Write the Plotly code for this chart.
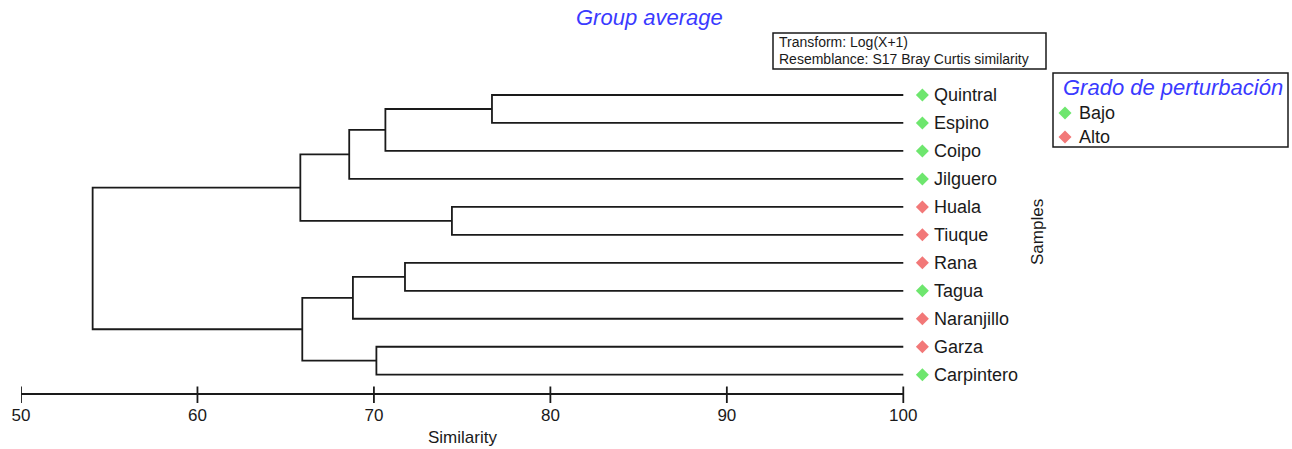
import plotly.graph_objects as go

# ---------------- data ----------------
leaves = ["Quintral", "Espino", "Coipo", "Jilguero", "Huala", "Tiuque",
          "Rana", "Tagua", "Naranjillo", "Garza", "Carpintero"]
groups = ["Bajo", "Bajo", "Bajo", "Bajo", "Alto", "Alto",
          "Alto", "Bajo", "Alto", "Alto", "Bajo"]
# merges: cluster ids 0..10 are leaves, each merge creates id 11, 12, ...
merge_left = [0, 11, 12, 4, 13, 6, 16, 9, 17, 15]
merge_right = [1, 2, 3, 5, 14, 7, 8, 10, 18, 19]
merge_similarity = [76.69, 70.65, 68.60, 74.42, 65.83, 71.76, 68.81, 70.14, 65.94, 54.06]
tick_values = [50, 60, 70, 80, 90, 100]
legend_groups = ["Bajo", "Alto"]
group_colors = {"Bajo": "#6ee66e", "Alto": "#f27878"}

# ---------------- layout helpers ----------------
W, H = 1292, 449
FONT = "Liberation Sans, Arial, sans-serif"
INK = "#1a1a1a"
BLUE = "#3a3aff"


def px(x):
    return x / W


def py(y):
    return 1 - y / H


# x axis: 50 at 21px, 100 at 903.3px; plot area extended to the right edge
x_px0, x_px100 = 21.0, 903.3
x_scale = (x_px100 - x_px0) / 50.0
x_max = 50 + (W - x_px0) / x_scale
# y axis: leaf 0 at 95px, leaf 10 at 374.7px, plot area 80..394px
row0, row_step = 95.0, 27.97
y_top_px, y_bot_px = 80.0, 394.0
y_range = [(y_bot_px - row0) / row_step, (y_top_px - row0) / row_step]

# ---------------- build dendrogram path ----------------
n = len(leaves)
pos = {i: float(i) for i in range(n)}
height = {i: 100.0 for i in range(n)}
xs, ys = [], []
for k, (a, b, s) in enumerate(zip(merge_left, merge_right, merge_similarity)):
    node = n + k
    xs += [height[a], s, s, height[b], None]
    ys += [pos[a], pos[a], pos[b], pos[b], None]
    pos[node] = (pos[a] + pos[b]) / 2
    height[node] = s

fig = go.Figure()
fig.add_trace(go.Scatter(x=xs, y=ys, mode="lines",
                         line=dict(color=INK, width=1.8),
                         hoverinfo="skip", showlegend=False))

marker_x = 101.08
for g in legend_groups:
    idx = [i for i, gg in enumerate(groups) if gg == g]
    fig.add_trace(go.Scatter(
        x=[marker_x] * len(idx), y=idx, mode="markers",
        marker=dict(symbol="diamond", size=10, color=group_colors[g],
                    line=dict(width=0)),
        name=g, showlegend=False,
        text=[leaves[i] for i in idx], hoverinfo="text"))

# legend markers on a small invisible axis over the legend box
leg_x0, leg_x1, leg_y0, leg_y1 = 1053, 1288, 73, 147
leg_item_y = [113, 137]
fig.add_trace(go.Scatter(
    x=[(1065 - leg_x0) / (leg_x1 - leg_x0)] * 2,
    y=[(leg_y1 - yy) / (leg_y1 - leg_y0) for yy in leg_item_y],
    mode="markers", xaxis="x3", yaxis="y3",
    marker=dict(symbol="diamond", size=10,
                color=[group_colors[g] for g in legend_groups]),
    hoverinfo="skip", showlegend=False))

annotations = []
for i, name in enumerate(leaves):
    annotations.append(dict(x=101.65, y=i, xref="x", yref="y", text=name,
                            showarrow=False, xanchor="left", yanchor="middle",
                            font=dict(family=FONT, size=18, color=INK)))

# title
annotations.append(dict(x=px(649), y=py(18), xref="paper", yref="paper",
                        text="<i>Group average</i>", showarrow=False,
                        xanchor="center", yanchor="middle",
                        font=dict(family=FONT, size=22, color=BLUE)))
# transform box text
annotations.append(dict(x=px(777), y=py(42), xref="paper", yref="paper",
                        text="Transform: Log(X+1)", showarrow=False,
                        xanchor="left", yanchor="middle",
                        font=dict(family=FONT, size=14, color=INK)))
annotations.append(dict(x=px(777), y=py(59), xref="paper", yref="paper",
                        text="Resemblance: S17 Bray Curtis similarity", showarrow=False,
                        xanchor="left", yanchor="middle",
                        font=dict(family=FONT, size=14, color=INK)))
# legend texts
annotations.append(dict(x=px(1061), y=py(88), xref="paper", yref="paper",
                        text="<i>Grado de perturbación</i>", showarrow=False,
                        xanchor="left", yanchor="middle",
                        font=dict(family=FONT, size=22, color=BLUE)))
for g, yy in zip(legend_groups, leg_item_y):
    annotations.append(dict(x=px(1077), y=py(yy), xref="paper", yref="paper",
                            text=g, showarrow=False, xanchor="left", yanchor="middle",
                            font=dict(family=FONT, size=18, color=INK)))
# axis titles
annotations.append(dict(x=px(462), y=py(437), xref="paper", yref="paper",
                        text="Similarity", showarrow=False,
                        xanchor="center", yanchor="middle",
                        font=dict(family=FONT, size=17, color=INK)))
annotations.append(dict(x=px(1037), y=py(232), xref="paper", yref="paper",
                        text="Samples", showarrow=False, textangle=-90,
                        xanchor="center", yanchor="middle",
                        font=dict(family=FONT, size=17, color=INK)))

shapes = [
    dict(type="rect", xref="paper", yref="paper",
         x0=px(773), x1=px(1046), y0=py(33), y1=py(69),
         line=dict(color=INK, width=1.5), fillcolor="rgba(0,0,0,0)"),
    dict(type="rect", xref="paper", yref="paper",
         x0=px(leg_x0), x1=px(leg_x1), y0=py(leg_y0), y1=py(leg_y1),
         line=dict(color=INK, width=1.5), fillcolor="rgba(0,0,0,0)"),
    # similarity axis line, 50..100
    dict(type="line", xref="x", yref="paper", x0=tick_values[0], x1=tick_values[-1],
         y0=py(y_bot_px), y1=py(y_bot_px), line=dict(color=INK, width=1.8)),
]
# crossing tick marks
for t in tick_values:
    shapes.append(dict(type="line", xref="x", yref="paper", x0=t, x1=t,
                       y0=py(403), y1=py(386.5),
                       line=dict(color=INK, width=1.8)))

fig.update_layout(
    width=W, height=H,
    margin=dict(l=0, r=0, t=0, b=0),
    paper_bgcolor="white", plot_bgcolor="white",
    showlegend=False,
    xaxis=dict(range=[50, x_max], domain=[px(x_px0), 1], anchor="y",
               showline=False, ticks="outside", ticklen=6, tickwidth=0,
               tickcolor="rgba(0,0,0,0)",
               tickvals=tick_values, ticktext=[str(t) for t in tick_values],
               tickfont=dict(family=FONT, size=17, color=INK),
               showgrid=False, zeroline=False, automargin=False, fixedrange=True),
    yaxis=dict(range=y_range, domain=[py(y_bot_px), py(y_top_px)], anchor="x",
               visible=False, showgrid=False, zeroline=False, automargin=False,
               fixedrange=True),
    xaxis3=dict(range=[0, 1], domain=[px(leg_x0), px(leg_x1)], anchor="y3",
                visible=False, fixedrange=True),
    yaxis3=dict(range=[0, 1], domain=[py(leg_y1), py(leg_y0)], anchor="x3",
                visible=False, fixedrange=True),
    annotations=annotations,
    shapes=shapes,
)

fig.write_html("out.html",
               config={"displayModeBar": False},
               post_script="document.body.style.margin='0';"
                           "document.body.style.padding='0';")
